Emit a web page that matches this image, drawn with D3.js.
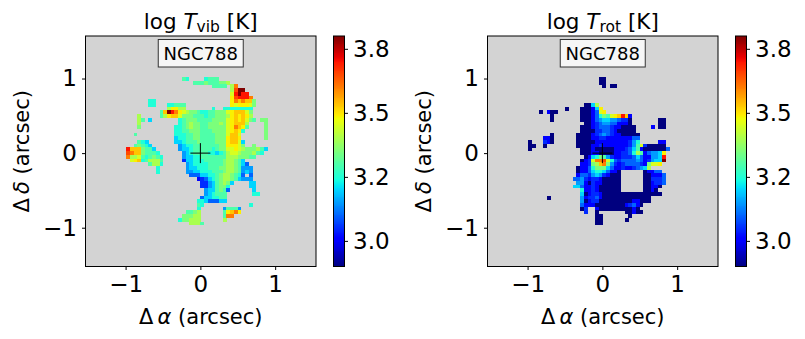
<!DOCTYPE html>
<html lang="en">
<head>
<title>NGC788 temperature maps</title>
<meta charset="utf-8">
<script src="https://d3js.org/d3.v7.min.js"></script>
<style>
	body { margin: 0; background: #fff; }
	text { font-family: "DejaVu Sans", sans-serif; fill: #000; }
	.cell, .band { shape-rendering: crispEdges; }
</style>
</head>

<body>
<div id="chart"></div>

<script>
	// log T value for each map character, read against the colour bar
	var levelValues = [2.9, 3.0, 3.05, 3.1, 3.15, 3.2, 3.25, 3.3, 3.35, 3.4, 3.45, 3.49, 3.53, 3.6, 3.65, 3.7, 3.8];

	// one string per map row, top to bottom, "." = no data
	var vibRows = [
		"...............76....6777",
		"..................7778777889",
		".......................7777.9d",
		"............................9egg",
		"............................afgff",
		"............................befffd",
		"......66....................bdcdcc8",
		"......66...66777............babbba8",
		"...........9bb99.......6..66666666",
		".........7cgfdba98876677888abccca8",
		"...9.....79bcca8887776778889bcbcb9",
		"...97.5.......6788877778888abcbca87.88",
		"...9..........6789887788898abccc9....8",
		"...8.........66789887788888abdcb7....8",
		".............66778887778888abcb6.....8",
		"..7..........66677887777888acca......8",
		".............56677887777888bccb......8",
		"...765.......55677787777888bcca5",
		"..78765.......4566777777788bbba8..8",
		"fccc8775......4556777776788aaba9888975",
		"edcc87776......4567777665679aa9888976",
		"d99a767876.....45566777777799988877",
		".abc679997.....25566677777899875",
		"......7996......45666677778998753",
		"........6.......455666777889987444",
		"........6.......445566677789987454",
		".................333556678998763.3",
		"...................123567899875444",
		"....................224578985....55",
		"....................22457886.....55",
		".....................4557873......5",
		".....................456777.......66",
		"....................3556677",
		"...................66533355",
		"...................76............6",
		"...................6......47774",
		"................7789......7bcdb",
		"...............88899......7dd",
		"..............688999......9",
		".................9997"
	];

	var rotRows = [
		"...................00",
		"...................00",
		"....................0.00",
		"",
		"",
		"",
		"",
		"...............0059",
		"..........0...00015b",
		"...0.100......00013ab",
		"......0.......00013687abcfc1",
		"......0.......00013455443220.......00",
		"...............0012344331110.......00",
		"..............000123332110000....1.00",
		"..............000022332100000",
		"......0......00001234321100000",
		"....110......00001122111111133",
		"0...210......00000111111111246.....11",
		"00..0........00001121111111247a200000",
		"0.............000100000111235710000003",
		"..............0001100001122369713445b",
		"...............015687421122235311445f",
		"..............012addea63233334312455g",
		"..............11289cd842123333218aab",
		".............01136888531121123459",
		".............011356653110......01133",
		".............133245421000......001113",
		"............3342122100000......002223",
		".............441021100000......001223",
		"............5531121000000......00110",
		"..............61121000000......0010",
		"..............5012210000000000000000",
		".....0........4122310000000000000",
		"..............4012200000000011000",
		"..............31110000000012310",
		"..............02..100000000010",
		"...............2..0.......00100",
		"..................00.......0",
		"..................00......0",
		"..................00"
	];

	var xTicks = [-1, 0, 1],
		yTicks = [-1, 0, 1],
		barTicks = [3.0, 3.25, 3.5, 3.75],
		barLabels = ["3.0", "3.2", "3.5", "3.8"];

	var vMin = 2.9, vMax = 3.8;
	// map extent in arcsec: left edge of first column, top edge of first row, pixel size
	var mapLeft = -0.993, mapTop = 1.02, mapStep = 0.0497;

	var svg = d3.select("#chart").append("svg")
		.attr("width", 805)
		.attr("height", 339);

	// matplotlib jet
	var jetR = d3.scaleLinear().domain([0, 0.35, 0.66, 0.89, 1]).range([0, 0, 255, 255, 127]),
		jetG = d3.scaleLinear().domain([0, 0.125, 0.375, 0.64, 0.91, 1]).range([0, 0, 255, 255, 0, 0]),
		jetB = d3.scaleLinear().domain([0, 0.11, 0.34, 0.65, 1]).range([127, 255, 255, 0, 0]);

	function jet(v) {
		var t = (v - vMin) / (vMax - vMin);
		return d3.rgb(jetR(t), jetG(t), jetB(t)).formatHex();
	}

	function drawPanel(left, rows, sub) {
		var size = 230.5, top = 36;
		var g = svg.append("g").attr("transform", "translate(" + left + "," + top + ")");

		var x = d3.scaleLinear().domain([-1.536, 1.546]).range([0, size]),
			y = d3.scaleLinear().domain([-1.52, 1.57]).range([size, 0]);

		g.append("rect")
			.attr("width", size)
			.attr("height", size)
			.attr("fill", "#d3d3d3");

		var cells = [];
		rows.forEach(function(row, r) {
			row.split("").forEach(function(ch, c) {
				if (ch != ".") cells.push({r: r, c: c, v: levelValues[parseInt(ch, 36)]});
			});
		});

		g.selectAll(".cell")
			.data(cells)
			.enter()
			.append("rect")
			.attr("class", "cell")
			.attr("x", function(d) { return x(mapLeft + d.c * mapStep); })
			.attr("y", function(d) { return y(mapTop - d.r * mapStep); })
			.attr("width", x(mapStep) - x(0) + 0.15)
			.attr("height", y(0) - y(mapStep) + 0.15)
			.attr("fill", function(d) { return jet(d.v); });

		// centre marker
		g.append("line").attr("x1", x(0) - 10).attr("x2", x(0) + 10).attr("y1", y(0)).attr("y2", y(0)).attr("stroke", "#000");
		g.append("line").attr("x1", x(0)).attr("x2", x(0)).attr("y1", y(0) - 10).attr("y2", y(0) + 10).attr("stroke", "#000");

		g.append("rect")
			.attr("x", size / 2 - 42.5)
			.attr("y", 3.5)
			.attr("width", 85)
			.attr("height", 27.5)
			.attr("fill", "#f6f6f6")
			.attr("stroke", "#333")
			.attr("stroke-width", 1);
		g.append("text")
			.attr("x", size / 2)
			.attr("y", 23.5)
			.attr("text-anchor", "middle")
			.style("font-size", "18px")
			.text("NGC788");

		var xAxis = g.append("g")
			.attr("transform", "translate(0," + size + ")")
			.call(d3.axisBottom(x).tickValues(xTicks).tickFormat(d3.format("d")).tickSize(3.5).tickPadding(6));
		var yAxis = g.append("g")
			.call(d3.axisLeft(y).tickValues(yTicks).tickFormat(d3.format("d")).tickSize(3.5).tickPadding(5));
		g.selectAll(".domain").remove();
		g.selectAll(".tick text").style("font-size", "23px").attr("font-family", null);

		g.append("rect")
			.attr("width", size)
			.attr("height", size)
			.attr("fill", "none")
			.attr("stroke", "#000")
			.attr("stroke-width", 1);

		// title
		var title = g.append("text")
			.attr("x", size / 2)
			.attr("y", -7)
			.attr("text-anchor", "middle")
			.style("font-size", "21.5px");
		title.append("tspan").text("log ");
		title.append("tspan").style("font-style", "italic").text("T");
		title.append("tspan").attr("dy", 3).style("font-size", "15.5px").text(sub);
		title.append("tspan").attr("dy", -3).text(" [K]");

		// axis labels
		var xl = g.append("text")
			.attr("x", size / 2)
			.attr("y", 288)
			.attr("text-anchor", "middle")
			.style("font-size", "21px");
		xl.append("tspan").text("\u0394\u2009");
		xl.append("tspan").style("font-style", "italic").text("\u03b1");
		xl.append("tspan").text(" (arcsec)");

		var yl = g.append("text")
			.attr("transform", "translate(-57," + (size / 2) + ") rotate(-90)")
			.attr("text-anchor", "middle")
			.style("font-size", "21px");
		yl.append("tspan").text("\u0394\u2009");
		yl.append("tspan").style("font-style", "italic").text("\u03b4");
		yl.append("tspan").text(" (arcsec)");

		// colour bar
		var bar = g.append("g").attr("transform", "translate(" + (size + 17.5) + ",0)"),
			barW = 11;
		var yBar = d3.scaleLinear().domain([vMin, vMax]).range([size, 0]);

		bar.selectAll(".band")
			.data(d3.range(256))
			.enter()
			.append("rect")
			.attr("class", "band")
			.attr("x", 0)
			.attr("width", barW)
			.attr("y", function(i) { return yBar(vMin + (i + 1) / 256 * (vMax - vMin)); })
			.attr("height", size / 256 + 0.3)
			.attr("fill", function(i) { return jet(vMin + (i + 0.5) / 256 * (vMax - vMin)); });

		bar.append("g")
			.attr("transform", "translate(" + barW + ",0)")
			.call(d3.axisRight(yBar).tickValues(barTicks).tickFormat(function(d, i) { return barLabels[i]; }).tickSize(3.5).tickPadding(5))
			.call(function(a) {
				a.select(".domain").remove();
				a.selectAll("text").style("font-size", "23px").attr("font-family", null);
			});

		bar.append("rect")
			.attr("width", barW)
			.attr("height", size)
			.attr("fill", "none")
			.attr("stroke", "#000")
			.attr("stroke-width", 1);
	}

	drawPanel(85.5, vibRows, "vib");
	drawPanel(487.5, rotRows, "rot");
</script>

</body>
</html>
